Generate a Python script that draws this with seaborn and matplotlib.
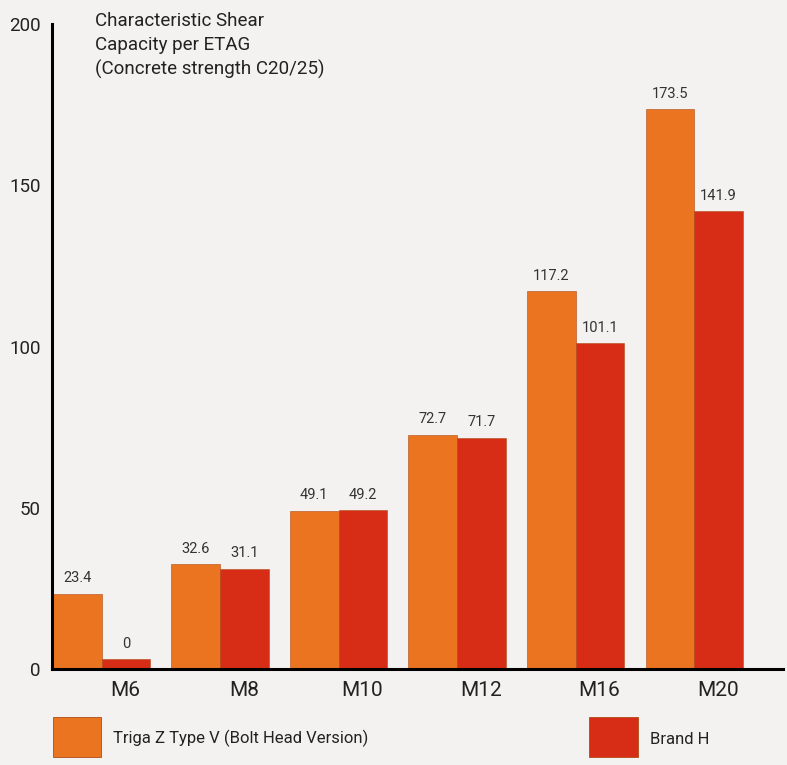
import numpy as np
import pandas as pd
import matplotlib
matplotlib.use("Agg")
import matplotlib.pyplot as plt
from matplotlib.patches import Rectangle
import seaborn as sns

# Werte
sizes = ["M6", "M8", "M10", "M12", "M16", "M20"]
triga = [23.4, 32.6, 49.1, 72.7, 117.2, 173.5]
brand_h = [0, 31.1, 49.2, 71.7, 101.1, 141.9]
series_names = ["Triga Z Type V (Bolt Head Version)", "Brand H"]

orange = "#eb7420"
red = "#d72d17"
bg = "#f3f2f0"

sns.set_theme(style="white")
plt.rcParams["font.family"] = ["Roboto", "DejaVu Sans"]

df = pd.DataFrame({
    "size": sizes * 2,
    "value": triga + brand_h,
    "brand": [series_names[0]] * 6 + [series_names[1]] * 6,
})
# null-Werte als kleiner Stummel sichtbar wie im Original
df["shown"] = np.where(df["value"] == 0, 3, df["value"])

fig = plt.figure(figsize=(7.87, 7.65), dpi=100, facecolor=bg)
ax = fig.add_axes([52 / 787, 96 / 765, 731 / 787, 645 / 765])
ax.set_facecolor(bg)

sns.barplot(data=df, x="size", y="shown", hue="brand", order=sizes,
            hue_order=series_names, palette=[orange, red], width=0.82,
            gap=0, saturation=1, legend=False, ax=ax,
            edgecolor="#b04a18", linewidth=0.4)

for cont, vals in zip(ax.containers, [triga, brand_h]):
    ax.bar_label(cont, labels=[f"{v:g}" for v in vals], padding=6,
                 fontsize=10.5, color="#333333")

ax.set_xlim(-0.418, 5.75)
ax.set_ylim(0, 200)
ax.set_yticks([0, 50, 100, 150, 200])
ax.set_xticks(np.arange(len(sizes)) + 0.2, sizes)
ax.set_xlabel("")
ax.set_ylabel("")
ax.tick_params(axis="y", direction="in", length=19, width=2, color="black",
               labelsize=13.5, pad=8, labelcolor="#222222")
ax.tick_params(axis="x", length=0, labelsize=15, pad=9, labelcolor="#222222")
for s in ["top", "right"]:
    ax.spines[s].set_visible(False)
for s in ["left", "bottom"]:
    ax.spines[s].set_color("black")
    ax.spines[s].set_linewidth(2.2)

fig.text(95 / 787, 1 - 12 / 765,
         "Characteristic Shear\nCapacity per ETAG\n(Concrete strength C20/25)",
         fontsize=13.5, va="top", ha="left", linespacing=1.4, color="#222222")

# Legende unten
fig.patches.append(Rectangle((53 / 787, 1 - 757 / 765), 48 / 787, 40 / 765,
                             transform=fig.transFigure, facecolor=orange,
                             edgecolor="#b04a18", linewidth=0.6))
fig.text(113 / 787, 1 - 738 / 765, series_names[0], fontsize=12,
         va="center", ha="left", color="#222222")
fig.patches.append(Rectangle((589 / 787, 1 - 757 / 765), 49 / 787, 40 / 765,
                             transform=fig.transFigure, facecolor=red,
                             edgecolor="#b04a18", linewidth=0.6))
fig.text(650 / 787, 1 - 739 / 765, series_names[1], fontsize=12,
         va="center", ha="left", color="#222222")

fig.savefig("out.png", dpi=100, facecolor=bg)
